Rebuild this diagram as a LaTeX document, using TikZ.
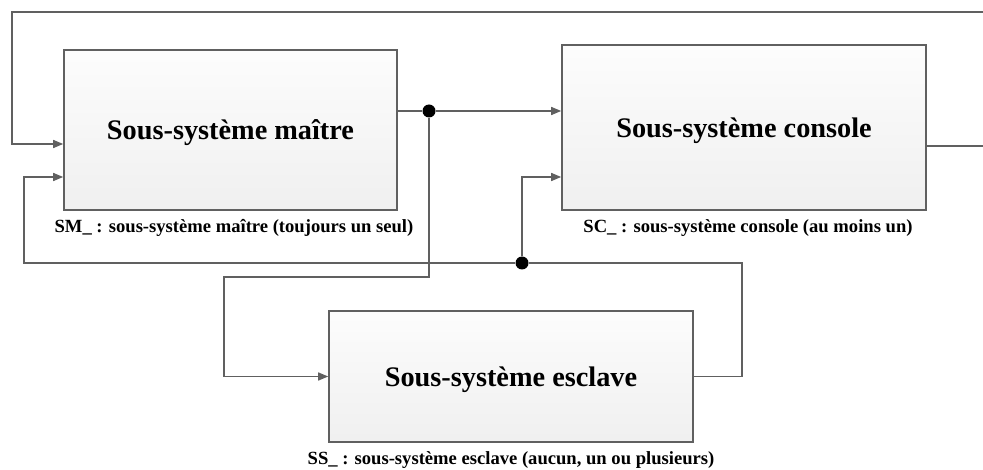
\documentclass[tikz,border=0pt]{standalone}
\usepackage{fontspec}
\setmainfont{Liberation Serif}
\usetikzlibrary{arrows.meta,positioning}
\tikzset{
	subsys/.style = {draw=gray!75!black, line width=1.6pt, rectangle, top color=gray!2, bottom color=gray!12, font=\bfseries\fontsize{28.3}{33}\selectfont},
	caption/.style = {font=\bfseries\fontsize{18.6}{21}\selectfont},
	link/.style = {draw=gray!75!black, line width=1.5pt},
	feed/.style = {link, -{Triangle[length=10pt,width=8pt]}},
	junction/.style = {circle, fill=black, inner sep=0pt, minimum size=13pt},
}

\begin{document}
\begin{tikzpicture}[x=1pt, y=-1pt]
	\useasboundingbox (0,0) rectangle (983,470);
	\node (master) [subsys, minimum width=333pt, minimum height=160pt, text depth=-3pt] at (230.5,130) {Sous-système maître};
	\node (console) [subsys, minimum width=364pt, minimum height=165pt, text depth=-3pt] at (744,127.5) {Sous-système console};
	\node (slave) [subsys, minimum width=364pt, minimum height=131pt, text depth=-6pt] at (511,376.5) {Sous-système esclave};
	\node (capmaster) [caption] at (234,228) {SM\_ : sous-système maître (toujours un seul)};
	\node (capconsole) [caption] at (748,228) {SC\_ : sous-système console (au moins un)};
	\node (capslave) [caption] at (511,460) {SS\_ : sous-système esclave (aucun, un ou plusieurs)};
	\node (split1) [junction] at (429,111) {};
	\node (split2) [junction] at (522,263) {};
	\coordinate (bendA) at (224,277);
	\coordinate (bendB) at (742,263);
	\coordinate (lowM) at (24,177);
	\coordinate (outC) at ([yshift=-18.5pt]console.east);
	\coordinate (topR) at (986,12);
	\coordinate (topL) at (12,144);
	% master to console and slave
	\path [link] (split1 -| master.east) -- (split1);
	\path [feed] (split1) -- (split1 -| console.west);
	\path [feed] (split1) |- (bendA) |- (slave.west);
	% slave back to master and console
	\path [link] (slave.east) -| (bendB) -- (split2);
	\path [feed] (split2) -| (lowM) -- (lowM -| master.west);
	\path [feed] (split2) |- (lowM -| console.west);
	% console back to master
	\path [feed] (outC) -| (topR) -| (topL) -- (topL -| master.west);
\end{tikzpicture}
\end{document}
